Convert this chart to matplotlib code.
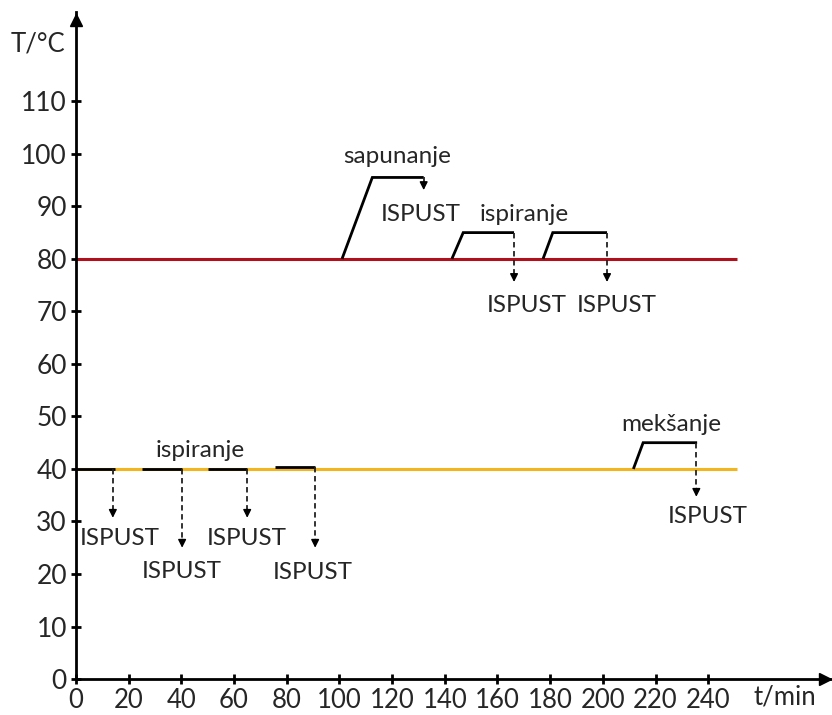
import matplotlib.pyplot as plt

plt.rcParams['font.family'] = ['Lato', 'DejaVu Sans']

# axis ticks
minutes = list(range(0, 241, 20))
degrees = list(range(0, 111, 10))

# bath temperatures and length of the process (min)
hot_level = 80
warm_level = 40
bath_end = 251

# black step profiles of the single baths: (t list, T list)
profiles = [
    ([101, 112.5, 132], [80, 95.5, 95.5]),      # sapunanje
    ([142.7, 147, 166.3], [80, 85, 85]),        # ispiranje
    ([177.3, 181, 201.6], [80, 85, 85]),        # ispiranje
    ([0, 14.8], [40, 40]),
    ([25, 40.3], [40, 40]),
    ([50, 65], [40, 40]),
    ([75.6, 90.8], [40.4, 40.4]),
    ([211.6, 215.3, 235.8], [40, 45, 45]),      # mekšanje
]

# drain arrows: t, T start, T end
drains = [
    (132, 95.5, 93.1),
    (166.3, 85, 75.6),
    (201.6, 85, 75.6),
    (14, 40, 30.7),
    (40.3, 40, 25),
    (65, 40, 30.7),
    (90.8, 40.4, 25),
    (235.5, 45, 34.7),
]

notes = [
    ("sapunanje", 122, 99.4),
    ("ISPUST", 131, 88.4),
    ("ispiranje", 170, 88.4),
    ("ISPUST", 171, 71.2),
    ("ISPUST", 205.4, 71.2),
    ("ispiranje", 47, 43.6),
    ("ISPUST", 16.7, 26.8),
    ("ISPUST", 40.2, 20.4),
    ("ISPUST", 65, 26.8),
    ("ISPUST", 90, 20.2),
    ("mekšanje", 226, 48.4),
    ("ISPUST", 240, 30.9),
]

fig = plt.figure(figsize=(8.32, 7.15), dpi=100)
ax = fig.add_axes([0.0913, 0.0503, 0.9087, 0.9329])
ax.set_xlim(0, 287)
ax.set_ylim(0, 127)

# bath lines
ax.plot([0, bath_end], [hot_level, hot_level], color='#b0101c', lw=2.2, solid_capstyle='butt')
ax.plot([0, bath_end], [warm_level, warm_level], color='#f2b51e', lw=2.2, solid_capstyle='butt')

for t, T in profiles:
    ax.plot(t, T, color='black', lw=2, solid_capstyle='butt', solid_joinstyle='miter', clip_on=False)

for t, T0, T1 in drains:
    ax.plot([t, t], [T0, T1 + 1.2], color='#222222', lw=1.3, linestyle=(0, (3, 2)))
    ax.annotate('', xy=(t, T1), xytext=(t, T1 + 1.6),
                arrowprops=dict(arrowstyle='-|>', color='black', lw=1,
                                mutation_scale=12, shrinkA=0, shrinkB=0))

for text, t, T in notes:
    ax.text(t, T, text, ha='center', va='center', fontsize=17.5, color='#262626')

# axes with arrow heads
for side in ['top', 'right']:
    ax.spines[side].set_visible(False)
for side in ['left', 'bottom']:
    ax.spines[side].set_linewidth(2)
ax.plot(284.5, 0, marker='>', ms=9, color='black', clip_on=False)
ax.plot(0, 125.5, marker='^', ms=9, color='black', clip_on=False)

ax.set_xticks(minutes)
ax.set_yticks(degrees)
ax.tick_params(direction='inout', length=7, width=2, labelsize=19, labelcolor='#262626')
ax.tick_params(axis='x', pad=3, labelsize=18.5)
ax.tick_params(axis='y', pad=3)

ax.text(-14.5, 121, 'T/°C', ha='center', va='center', fontsize=18.5, color='#262626', clip_on=False)
ax.text(269, -3.4, 't/min', ha='center', va='center', fontsize=18.5, color='#262626', clip_on=False)

fig.savefig('out.png', dpi=100)
